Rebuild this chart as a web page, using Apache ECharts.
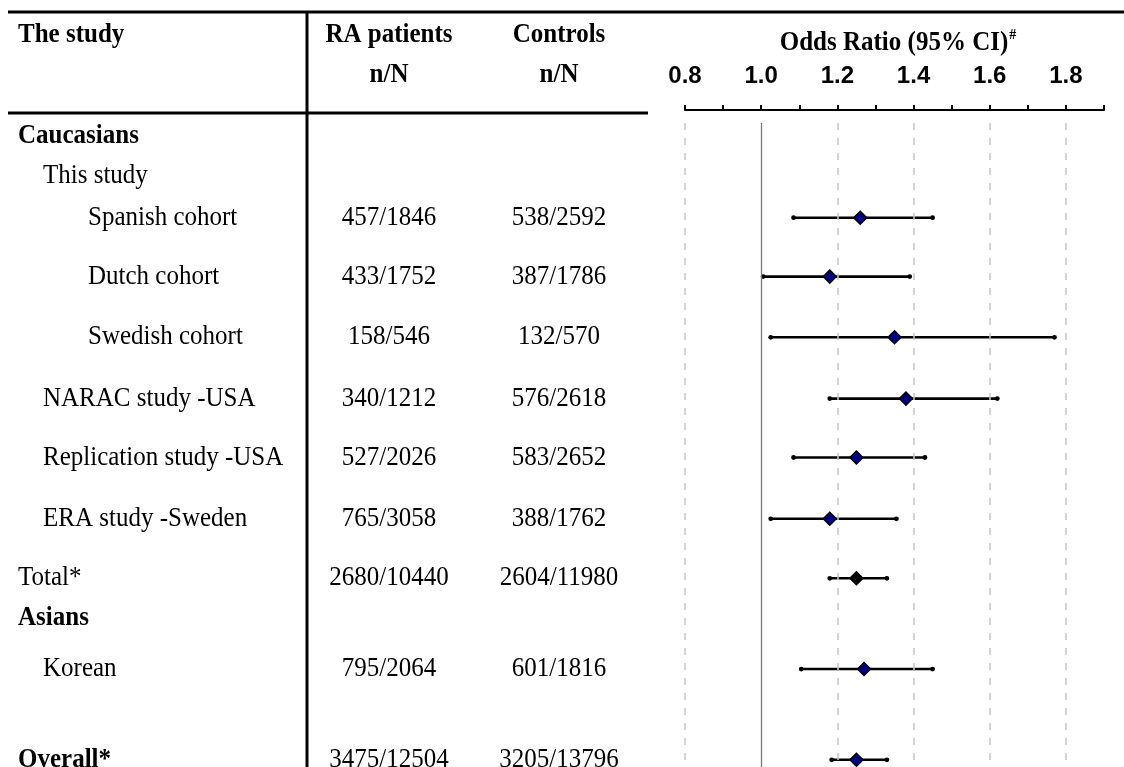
<!DOCTYPE html>
<html><head><meta charset="utf-8">
<script src="https://cdn.jsdelivr.net/npm/echarts/dist/echarts.min.js"></script>
<style>html,body{margin:0;padding:0;background:#fff}#c{width:1124px;height:767px}</style>
</head><body><div id="c"></div><script>
// ---- data ----
const rowLabels = ['Caucasians','This study','Spanish cohort','Dutch cohort','Swedish cohort','NARAC study -USA','Replication study -USA','ERA study -Sweden','Total*','Asians','Korean','Overall*'];
const rowLevel  = [0,1,2,2,2,1,1,1,0,0,1,0];
const rowBold   = [true,false,false,false,false,false,false,false,false,true,false,true];
const rowPos    = [-1.36,-0.69,0,0.98,1.99,3.01,3.99,5.01,6.0,6.66,7.51,9.02];
const raPatients = ['','','457/1846','433/1752','158/546','340/1212','527/2026','765/3058','2680/10440','','795/2064','3475/12504'];
const controls   = ['','','538/2592','387/1786','132/570','576/2618','583/2652','388/1762','2604/11980','','601/1816','3205/13796'];
const oddsRatio = [null,null,1.26,1.18,1.35,1.38,1.25,1.18,1.25,null,1.27,1.25];
const ciLow     = [null,null,1.085,1.005,1.025,1.18,1.085,1.025,1.18,null,1.105,1.185];
const ciHigh    = [null,null,1.45,1.39,1.77,1.62,1.43,1.355,1.33,null,1.45,1.33];
const xMin = 0.8, xMax = 1.9, xStep = 0.1;
const dashedRefs = [0.8,1.2,1.4,1.6,1.8];
const nullRef = 1.0;
const headers = {study:'The study', ra:'RA patients', ctrl:'Controls', nN:'n/N', or:'Odds Ratio (95% CI)', sup:'#'};

// ---- rendering ----
const SERIF = '"Liberation Serif","Times New Roman",serif';
const SANS = '"Liberation Sans",Arial,sans-serif';
const FS = 25;
const SY = 1.07;
const indentX = [18, 43, 88];
const raX = 389, ctrlX = 559;

const chart = echarts.init(document.getElementById('c'), null, {renderer:'canvas'});

const textData = rowLabels.map((l,i)=>[xMin, rowPos[i], i]);
const ciData = [], orData = [];
oddsRatio.forEach((v,i)=>{
  if (v == null) return;
  ciData.push([ciLow[i], ciHigh[i], rowPos[i]]);
  orData.push({value:[v, rowPos[i]], itemStyle:{color: rowLabels[i]==='Total*' ? '#000000' : '#000080'}});
});

function txt(x, y, text, bold, align, size, family){
  return {type:'text', x:x, y:y, scaleY:SY, silent:true, style:{text:text, fill:'#000', fontSize:size||FS, fontFamily:family||SERIF,
    fontWeight: bold?'bold':'normal', align:align||'left', verticalAlign:'middle', textAlign:align||'left', textVerticalAlign:'middle'}};
}

const option = {
  animation:false,
  backgroundColor:'#fff',
  grid:{left:685, right:20, top:123, bottom:0, containLabel:false},
  xAxis:{type:'value', position:'top', min:xMin, max:xMax, interval:xStep, offset:13,
    axisLine:{show:true, onZero:false, lineStyle:{color:'#000', width:2}},
    axisTick:{show:true, length:5, lineStyle:{color:'#000', width:2}},
    axisLabel:{show:true, margin:22, color:'#000', fontFamily:SANS, fontWeight:'bold', fontSize:24,
      formatter:v=>{const k=Math.round(v*10); return k%2===0 ? (k/10).toFixed(1) : '';}},
    splitLine:{show:false}},
  yAxis:{type:'value', inverse:true, min:-1.576, max:9.14, show:false},
  graphic:[
    {type:'line', shape:{x1:8,y1:12,x2:1124,y2:12}, style:{stroke:'#000', lineWidth:3}, silent:true},
    {type:'line', shape:{x1:8,y1:113,x2:648,y2:113}, style:{stroke:'#000', lineWidth:3}, silent:true},
    {type:'line', shape:{x1:307,y1:12,x2:307,y2:767}, style:{stroke:'#000', lineWidth:3}, silent:true},
    txt(18, 35, headers.study, true),
    txt(raX, 35, headers.ra, true, 'center'),
    txt(ctrlX, 35, headers.ctrl, true, 'center'),
    txt(raX, 75, headers.nN, true, 'center'),
    txt(ctrlX, 75, headers.nN, true, 'center'),
    {type:'text', x:898, y:43, scaleY:SY, silent:true, style:{text:'{m|'+headers.or+'}{s|'+headers.sup+'}', align:'center', verticalAlign:'middle',
      textAlign:'center', textVerticalAlign:'middle',
      rich:{m:{fontFamily:SERIF, fontWeight:'bold', fontSize:FS, fill:'#000', color:'#000', lineHeight:28},
            s:{fontFamily:SERIF, fontWeight:'bold', fontSize:14, fill:'#000', color:'#000', verticalAlign:'top', lineHeight:28, padding:[0,0,10,1]}}}}
  ],
  series:[
    {type:'scatter', data:[], z:1, silent:true,
      markLine:{symbol:'none', silent:true, label:{show:false}, animation:false,
        data: dashedRefs.map(v=>({xAxis:v, lineStyle:{color:'#c8c8c8', width:1.5, type:[7,8]}}))
          .concat([{xAxis:nullRef, lineStyle:{color:'#7a7a7a', width:1.3, type:'solid'}}])}},
    {type:'custom', z:3, clip:false, silent:true, data:ciData, encode:{x:[0,1], y:2},
      renderItem:(params, api)=>{
        const p1 = api.coord([api.value(0), api.value(2)]);
        const p2 = api.coord([api.value(1), api.value(2)]);
        return {type:'group', children:[
          {type:'line', shape:{x1:p1[0], y1:p1[1], x2:p2[0], y2:p2[1]}, style:{stroke:'#000', lineWidth:2.6}},
          {type:'circle', shape:{cx:p1[0], cy:p1[1], r:2.4}, style:{fill:'#000'}},
          {type:'circle', shape:{cx:p2[0], cy:p2[1], r:2.4}, style:{fill:'#000'}}
        ]};
      }},
    {type:'scatter', z:4, silent:true, symbol:'diamond', symbolSize:13, data:orData,
      itemStyle:{borderColor:'#000', borderWidth:1.5, opacity:1}},
    {type:'custom', z:5, clip:false, silent:true, data:textData, encode:{x:0, y:1},
      renderItem:(params, api)=>{
        const i = api.value(2);
        const y = api.coord([api.value(0), api.value(1)])[1];
        const kids = [txt(indentX[rowLevel[i]], y, rowLabels[i], rowBold[i])];
        if (raPatients[i]) kids.push(txt(raX, y, raPatients[i], false, 'center'));
        if (controls[i]) kids.push(txt(ctrlX, y, controls[i], false, 'center'));
        return {type:'group', children:kids};
      }}
  ]
};
chart.setOption(option);
</script></body></html>
